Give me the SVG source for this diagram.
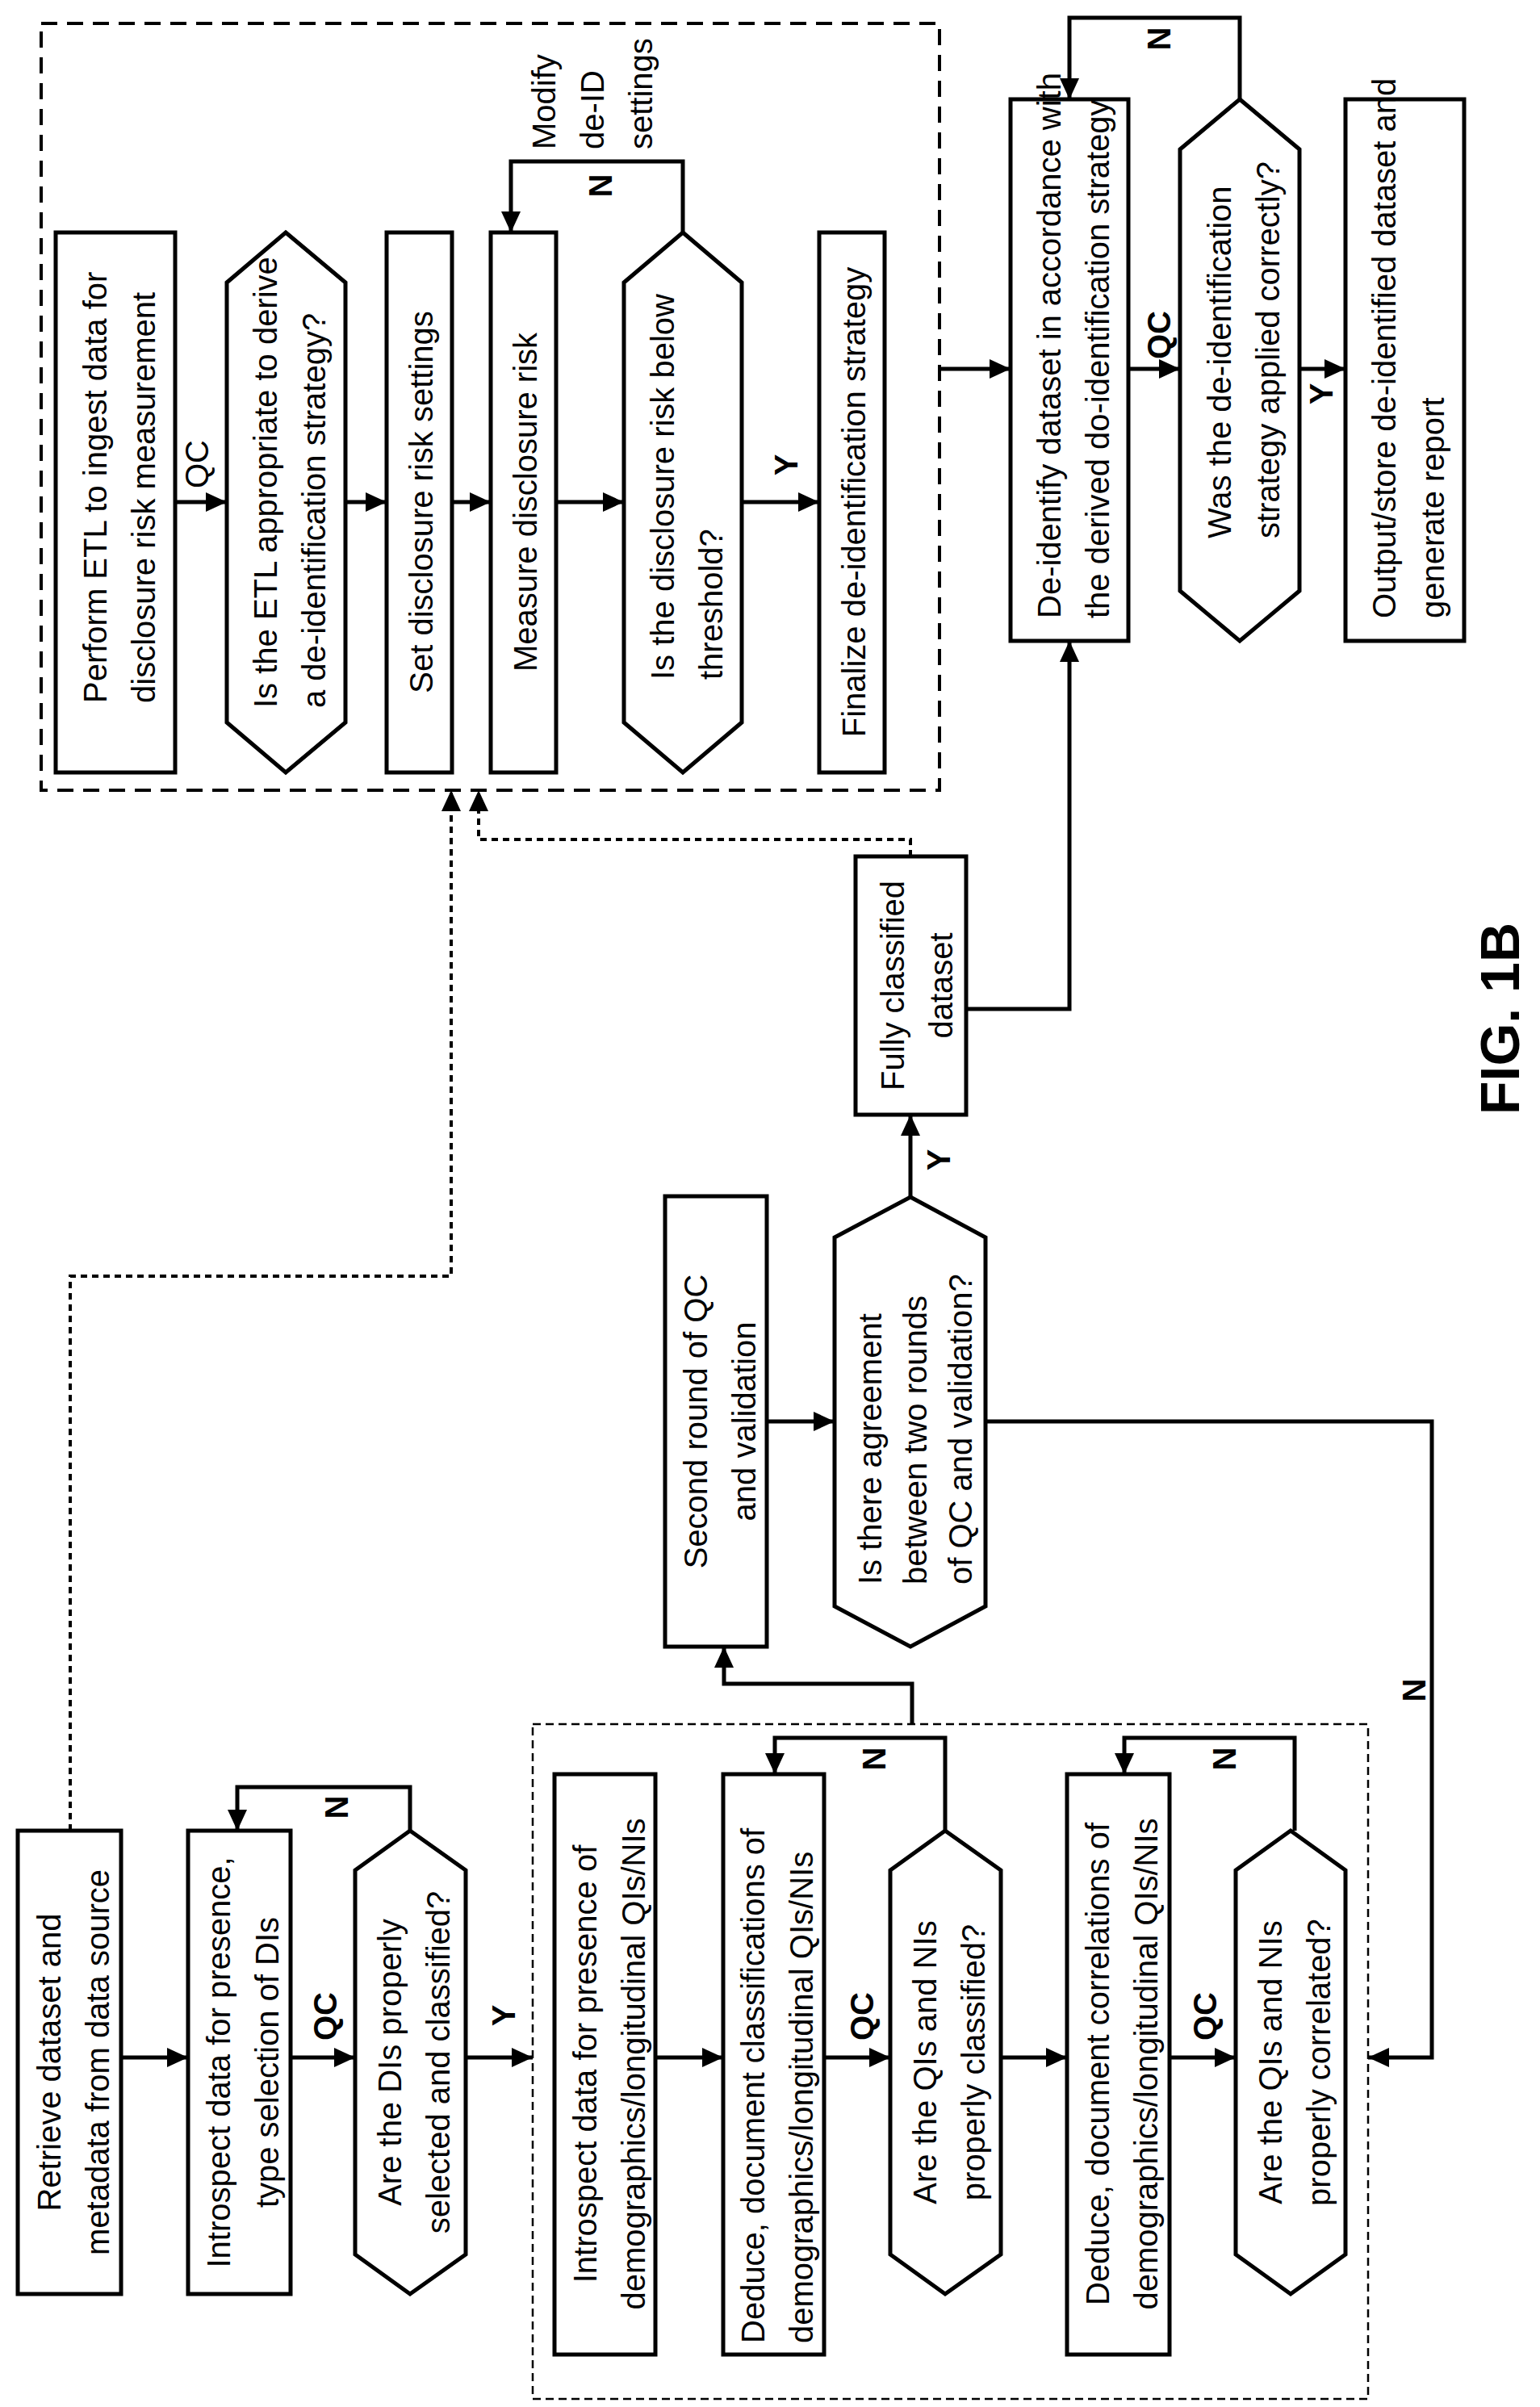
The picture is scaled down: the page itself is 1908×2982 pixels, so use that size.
<svg xmlns="http://www.w3.org/2000/svg" width="1908" height="2982" viewBox="0 0 1908 2982">
<style>
.t{font-family:"Liberation Sans",Arial,sans-serif;font-size:40px;fill:#000}
.b{font-weight:bold}
.s{text-anchor:start}
.m{text-anchor:middle}
.box{fill:#fff;stroke:#000;stroke-width:5}
.ln{fill:none;stroke:#000;stroke-width:5}
.dash1{fill:none;stroke:#000;stroke-width:4;stroke-dasharray:20 12}
.dash2{fill:none;stroke:#000;stroke-width:2.5;stroke-dasharray:10 6}
.dot{fill:none;stroke:#000;stroke-width:4;stroke-dasharray:8 6}
</style>
<defs>
<marker id="ah" markerUnits="userSpaceOnUse" markerWidth="26" markerHeight="24" refX="26" refY="12" orient="auto">
<path d="M0,0 L26,12 L0,24 z" fill="#000"/>
</marker>
</defs>
<rect class="dash1" x="51" y="29" width="1113" height="950"/>
<rect class="dash2" x="660" y="2136" width="1035" height="836"/>
<g id="n1"><rect class="box" x="69" y="288" width="148" height="669"/>
<text class="t s" transform="translate(132,871) rotate(-90)"><tspan x="0" y="0">Perform ETL to ingest data for</tspan><tspan x="0" y="60">disclosure risk measurement</tspan></text></g>
<g id="n2"><polygon class="box" points="354,288 428,350 428,895 354,957 281,895 281,350"/>
<text class="t s" transform="translate(343,877) rotate(-90)"><tspan x="0" y="0">Is the ETL appropriate to derive</tspan><tspan x="0" y="60">a de-identification strategy?</tspan></text></g>
<g id="n3"><rect class="box" x="479" y="288" width="81" height="669"/>
<text class="t m" transform="translate(536,622) rotate(-90)">Set disclosure risk settings</text></g>
<g id="n4"><rect class="box" x="608" y="288" width="81" height="669"/>
<text class="t m" transform="translate(665,622) rotate(-90)">Measure disclosure risk</text></g>
<g id="n5"><polygon class="box" points="846,288 919,350 919,895 846,957 773,895 773,350"/>
<text class="t s" transform="translate(835,842) rotate(-90)"><tspan x="0" y="0">Is the disclosure risk below</tspan><tspan x="0" y="60">threshold?</tspan></text></g>
<g id="n6"><rect class="box" x="1015" y="288" width="81" height="669"/>
<text class="t m" transform="translate(1072,622) rotate(-90)">Finalize de-identification strategy</text></g>
<g id="n7"><rect class="box" x="1252" y="123" width="146" height="671"/>
<text class="t s" transform="translate(1314,766) rotate(-90)"><tspan x="0" y="0">De-identify dataset in accordance with</tspan><tspan x="0" y="60">the derived do-identification strategy</tspan></text></g>
<g id="n8"><polygon class="box" points="1536,123 1610,185 1610,732 1536,794 1462,732 1462,185"/>
<text class="t s" transform="translate(1525,667) rotate(-90)"><tspan x="0" y="0">Was the de-identification</tspan><tspan x="0" y="60">strategy applied correctly?</tspan></text></g>
<g id="n9"><rect class="box" x="1667" y="123" width="147" height="671"/>
<text class="t s" transform="translate(1729,766) rotate(-90)"><tspan x="0" y="0">Output/store de-identified dataset and</tspan><tspan x="0" y="60">generate report</tspan></text></g>
<g id="n10"><rect class="box" x="1060" y="1061" width="137" height="320"/>
<text class="t m" transform="translate(1120,1221) rotate(-90)"><tspan x="0" y="0">Fully classified</tspan><tspan x="0" y="60">dataset</tspan></text></g>
<g id="n11"><rect class="box" x="824" y="1482" width="126" height="558"/>
<text class="t m" transform="translate(876,1761) rotate(-90)"><tspan x="0" y="0">Second round of QC</tspan><tspan x="0" y="60">and validation</tspan></text></g>
<g id="n12"><polygon class="box" points="1128,1483 1221,1533 1221,1990 1128,2040 1034,1990 1034,1533"/>
<text class="t s" transform="translate(1092,1963) rotate(-90)"><tspan x="0" y="0">Is there agreement</tspan><tspan x="0" y="56">between two rounds</tspan><tspan x="0" y="112">of QC and validation?</tspan></text></g>
<g id="n13"><rect class="box" x="22" y="2268" width="128" height="574"/>
<text class="t m" transform="translate(75,2555) rotate(-90)"><tspan x="0" y="0">Retrieve dataset and</tspan><tspan x="0" y="60">metadata from data source</tspan></text></g>
<g id="n14"><rect class="box" x="233" y="2268" width="127" height="574"/>
<text class="t m" transform="translate(285,2555) rotate(-90)"><tspan x="0" y="0">Introspect data for presence,</tspan><tspan x="0" y="60">type selection of DIs</tspan></text></g>
<g id="n15"><polygon class="box" points="508,2268 577,2317 577,2793 508,2842 440,2793 440,2317"/>
<text class="t m" transform="translate(497,2555) rotate(-90)"><tspan x="0" y="0">Are the DIs properly</tspan><tspan x="0" y="60">selected and classified?</tspan></text></g>
<g id="n16"><rect class="box" x="687" y="2198" width="125" height="719"/>
<text class="t m" transform="translate(739,2557) rotate(-90)"><tspan x="0" y="0">Introspect data for presence of</tspan><tspan x="0" y="60">demographics/longitudinal QIs/NIs</tspan></text></g>
<g id="n17"><rect class="box" x="896" y="2198" width="125" height="719"/>
<text class="t s" transform="translate(947,2903) rotate(-90)"><tspan x="0" y="0">Deduce, document classifications of</tspan><tspan x="0" y="60">demographics/longitudinal QIs/NIs</tspan></text></g>
<g id="n18"><polygon class="box" points="1171,2268 1240,2317 1240,2793 1171,2842 1103,2793 1103,2317"/>
<text class="t m" transform="translate(1160,2555) rotate(-90)"><tspan x="0" y="0">Are the QIs and NIs</tspan><tspan x="0" y="60">properly classified?</tspan></text></g>
<g id="n19"><rect class="box" x="1322" y="2198" width="127" height="719"/>
<text class="t m" transform="translate(1374,2557) rotate(-90)"><tspan x="0" y="0">Deduce, document correlations of</tspan><tspan x="0" y="60">demographics/longitudinal QIs/NIs</tspan></text></g>
<g id="n20"><polygon class="box" points="1599,2268 1667,2317 1667,2793 1599,2842 1531,2793 1531,2317"/>
<text class="t m" transform="translate(1588,2555) rotate(-90)"><tspan x="0" y="0">Are the QIs and NIs</tspan><tspan x="0" y="60">properly correlated?</tspan></text></g>
<g id="connectors">
<path class="ln" marker-end="url(#ah)" d="M217,622 H281"/>
<path class="ln" marker-end="url(#ah)" d="M428,622 H479"/>
<path class="ln" marker-end="url(#ah)" d="M560,622 H608"/>
<path class="ln" marker-end="url(#ah)" d="M689,622 H773"/>
<path class="ln" marker-end="url(#ah)" d="M919,622 H1015"/>
<path class="ln" marker-end="url(#ah)" d="M846,288 V200 H633 V288"/>
<path class="ln" marker-end="url(#ah)" d="M1164,457 H1252"/>
<path class="ln" marker-end="url(#ah)" d="M1398,457 H1462"/>
<path class="ln" marker-end="url(#ah)" d="M1610,457 H1667"/>
<path class="ln" marker-end="url(#ah)" d="M1536,123 V22 H1325 V123"/>
<path class="ln" marker-end="url(#ah)" d="M1197,1250 H1325 V794"/>
<path class="dot" marker-end="url(#ah)" d="M1128,1061 V1040 H593 V979"/>
<path class="dot" marker-end="url(#ah)" d="M87,2268 V1581 H559 V979"/>
<path class="ln" marker-end="url(#ah)" d="M950,1761 H1034"/>
<path class="ln" marker-end="url(#ah)" d="M1128,1483 V1381"/>
<path class="ln" marker-end="url(#ah)" d="M1221,1761 H1774 V2549 H1695"/>
<path class="ln" marker-end="url(#ah)" d="M1130,2136 V2086 H897 V2040"/>
<path class="ln" marker-end="url(#ah)" d="M150,2549 H233"/>
<path class="ln" marker-end="url(#ah)" d="M360,2549 H440"/>
<path class="ln" marker-end="url(#ah)" d="M577,2549 H660"/>
<path class="ln" marker-end="url(#ah)" d="M508,2268 V2214 H294 V2268"/>
<path class="ln" marker-end="url(#ah)" d="M812,2549 H896"/>
<path class="ln" marker-end="url(#ah)" d="M1021,2549 H1103"/>
<path class="ln" marker-end="url(#ah)" d="M1240,2549 H1322"/>
<path class="ln" marker-end="url(#ah)" d="M1449,2549 H1531"/>
<path class="ln" marker-end="url(#ah)" d="M1171,2268 V2153 H960 V2198"/>
<path class="ln" marker-end="url(#ah)" d="M1604,2268 V2153 H1393 V2198"/>
<text class="t m" transform="translate(258,575) rotate(-90)">QC</text>
<text class="t m b" transform="translate(988,576) rotate(-90)">Y</text>
<text class="t m b" transform="translate(758,230) rotate(-90)">N</text>
<text class="t s" transform="translate(688,185) rotate(-90)"><tspan x="0" y="0">Modify</tspan><tspan x="0" y="60">de-ID</tspan><tspan x="0" y="120">settings</tspan></text>
<text class="t m b" transform="translate(1450,415) rotate(-90)">QC</text>
<text class="t m b" transform="translate(1651,488) rotate(-90)">Y</text>
<text class="t m b" transform="translate(1450,48) rotate(-90)">N</text>
<text class="t m b" transform="translate(1177,1437) rotate(-90)">Y</text>
<text class="t m b" transform="translate(1766,2094) rotate(-90)">N</text>
<text class="t m b" transform="translate(431,2239) rotate(-90)">N</text>
<text class="t m b" transform="translate(417,2498) rotate(-90)">QC</text>
<text class="t m b" transform="translate(638,2497) rotate(-90)">Y</text>
<text class="t m b" transform="translate(1097,2179) rotate(-90)">N</text>
<text class="t m b" transform="translate(1082,2498) rotate(-90)">QC</text>
<text class="t m b" transform="translate(1531,2179) rotate(-90)">N</text>
<text class="t m b" transform="translate(1507,2498) rotate(-90)">QC</text>
</g>
<text class="t m b" style="font-size:68px" transform="translate(1882,1262) rotate(-90)">FIG. 1B</text>
</svg>
